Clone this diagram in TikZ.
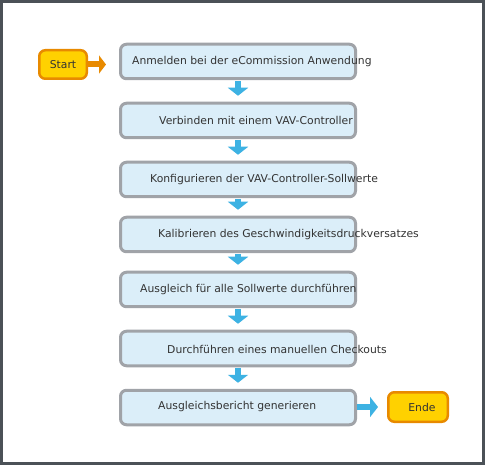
\documentclass[tikz,border=0pt]{standalone}
\usepackage{fontspec}
\setmainfont{DejaVu Sans}
\usetikzlibrary{arrows.meta,positioning}
\definecolor{frame}{HTML}{4B5157}
\definecolor{boxfill}{HTML}{DBEEF9}
\definecolor{boxline}{HTML}{A0A3A8}
\definecolor{termfill}{HTML}{FFD100}
\definecolor{termline}{HTML}{E88A00}
\definecolor{flow}{HTML}{3DB2E3}
\definecolor{txt}{HTML}{333333}
\begin{document}
\begin{tikzpicture}[x=1pt,y=-1pt,node distance=59pt,on grid,
    font=\fontsize{10.8}{13}\selectfont,text=txt,
    stepbox/.style={draw=boxline,fill=boxfill,line width=3pt,rounded corners=6pt,
      minimum width=235pt,minimum height=34.5pt},
    term/.style={draw=termline,fill=termfill,line width=2.5pt,rounded corners=6pt},
    label/.style={anchor=west,inner sep=0pt},
    flowarrow/.style={color=flow,line width=6pt,-{Triangle[width=20pt,length=8pt]}},
    startarrow/.style={color=termline,line width=6pt,-{Triangle[width=18pt,length=7pt]}}]
  \useasboundingbox (0,0) rectangle (485,465);
  \draw[fill=white,draw=frame,line width=3pt] (1.5,1.5) rectangle (483.5,463.5);
  \node[stepbox] (b1) at (238,61.5) {};
  \node[stepbox] [below=of b1] (b2) {};
  \node[stepbox] [below=of b2] (b3) {};
  \node[stepbox] [below=55pt of b3] (b4) {};
  \node[stepbox] [below=55pt of b4] (b5) {};
  \node[stepbox] [below=of b5] (b6) {};
  \node[stepbox] [below=of b6] (b7) {};
  \node[label] (t1) at (132,62) {Anmelden bei der eCommission Anwendung};
  \node[label] (t2) at (159,120) {Verbinden mit einem VAV-Controller};
  \node[label] (t3) at (150,180) {Konfigurieren der VAV-Controller-Sollwerte};
  \node[label] (t4) at (158,235) {Kalibrieren des Geschwindigkeitsdruckversatzes};
  \node[label] (t5) at (140,290) {Ausgleich für alle Sollwerte durchführen};
  \node[label] (t6) at (167,349) {Durchführen eines manuellen Checkouts};
  \node[label] (t7) at (158,407) {Ausgleichsbericht generieren};
  \node[term,minimum width=47.5pt,minimum height=28.5pt] (start) at (63,64.5) {Start};
  \node[term,minimum width=59.5pt,minimum height=29.5pt] (ende) at (418,407) {\hspace*{8pt}Ende};
  \path[flowarrow,shorten <=1pt,shorten >=6pt]
    (b1) edge (b2)
    (b2) edge (b3)
    (b3) edge (b4)
    (b4) edge (b5)
    (b5) edge (b6)
    (b6) edge (b7);
  \draw[startarrow,shorten >=13pt] (start.east) -- (start.east -| b1.west);
  \draw[flowarrow,shorten >=9pt] (b7.east |- ende.west) -- (ende.west);
\end{tikzpicture}
\end{document}
